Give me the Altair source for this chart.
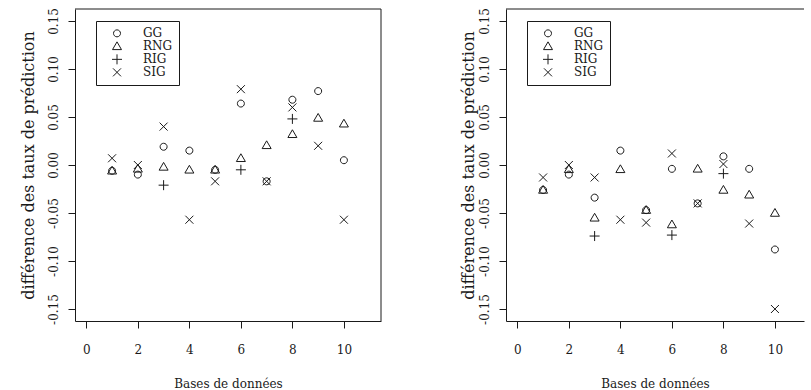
import altair as alt
import pandas as pd

# ---- data ----
bases = [1, 2, 3, 4, 5, 6, 7, 8, 9, 10]
series_names = ["GG", "RNG", "RIG", "SIG"]

left_gg  = [-0.006, -0.010, 0.019, 0.015, -0.005, 0.064, -0.017, 0.068, 0.077, 0.005]
left_rng = [-0.006, -0.004, -0.002, -0.005, -0.005, 0.007, 0.0205, 0.032, 0.049, 0.043]
left_rig = [None, None, -0.021, None, None, -0.005, None, 0.048, None, None]
left_sig = [0.007, 0.000, 0.040, -0.057, -0.017, 0.079, -0.017, 0.060, 0.020, -0.057]

right_gg  = [-0.026, -0.010, -0.034, 0.015, -0.047, -0.004, -0.040, 0.009, -0.004, -0.088]
right_rng = [-0.026, -0.0045, -0.055, -0.0045, -0.047, -0.062, -0.004, -0.026, -0.031, -0.050]
right_rig = [None, None, -0.074, None, None, -0.073, None, -0.009, None, None]
right_sig = [-0.013, 0.000, -0.013, -0.057, -0.060, 0.012, -0.040, 0.001, -0.061, -0.150]

x_ticks = [0, 2, 4, 6, 8, 10]
y_ticks = [-0.15, -0.10, -0.05, 0.00, 0.05, 0.10, 0.15]

x_title = "Bases de données"
y_title = "différence des taux de prédiction"

# symbol paths (R pch 1, 2, 3, 4)
shape_paths = [
    "M0.7,0A0.7,0.7,0,1,1,-0.7,0A0.7,0.7,0,1,1,0.7,0Z",
    "M0,-0.9L0.9,0.65L-0.9,0.65Z",
    "M-1,0L1,0M0,-1L0,1",
    "M-0.8,-0.8L0.8,0.8M-0.8,0.8L0.8,-0.8",
]

FONT = "DejaVu Serif"
INK = "#1a1a1a"
PAD_LABEL = "\u00a0" * 9


def long_table(gg, rng, rig, sig):
    rows = []
    for name, vals in zip(series_names, [gg, rng, rig, sig]):
        for b, v in zip(bases, vals):
            if v is not None:
                rows.append({"base": b, "diff": v, "serie": name})
    return pd.DataFrame(rows)


def panel(df, x_max, width, right_border, title_x):
    x_scale = alt.Scale(domain=[-0.44, x_max], nice=False, zero=False)
    y_scale = alt.Scale(domain=[-0.1625, 0.1625], nice=False, zero=False)
    pts = alt.Chart(df).mark_point(filled=False, size=100, strokeWidth=1, color=INK, opacity=1).encode(
        x=alt.X("base:Q", scale=x_scale,
                axis=alt.Axis(values=x_ticks, format="d", title=x_title, grid=False,
                              domainColor=INK, tickColor=INK, tickSize=7,
                              labelFont=FONT, labelFontSize=12, labelColor=INK,
                              labelBaseline="middle", labelPadding=21,
                              titleFont=FONT, titleFontSize=12, titleFontWeight="normal",
                              titleColor=INK, titleBaseline="middle", titleY=62)),
        y=alt.Y("diff:Q", scale=y_scale,
                axis=alt.Axis(values=y_ticks, title=y_title, grid=False,
                              labelExpr="replace(format(datum.value, '.2f'), '\u2212', '-')",
                              domainColor=INK, tickColor=INK, tickSize=7,
                              labelFont=FONT, labelFontSize=12, labelColor=INK,
                              labelAngle=270, labelAlign="center", labelBaseline="middle",
                              labelPadding=15,
                              titleFont=FONT, titleFontSize=16, titleFontWeight="normal",
                              titleColor=INK, titleAngle=270, titleAlign="center",
                              titleBaseline="middle", titleX=title_x, titleY=156)),
        shape=alt.Shape("serie:N",
                        scale=alt.Scale(domain=series_names, range=shape_paths),
                        legend=alt.Legend(orient="none", legendX=21, legendY=12, title=None,
                                          strokeColor=INK, fillColor="white", padding=6,
                                          clipHeight=12.7, rowPadding=0,
                                          symbolSize=100, symbolStrokeColor=INK,
                                          symbolStrokeWidth=1, symbolFillColor="transparent",
                                          symbolOffset=9, labelOffset=20,
                                          labelFont=FONT, labelFontSize=12, labelColor=INK,
                                          labelExpr="datum.label + '" + PAD_LABEL + "'")),
    )
    frame = alt.Data(values=[{"k": 1}])
    top = alt.Chart(frame).mark_rule(color=INK, strokeWidth=1).encode(y=alt.value(0))
    layers = [top, pts]
    if right_border:
        rb = alt.Chart(frame).mark_rule(color=INK, strokeWidth=1).encode(x=alt.value(width))
        layers.insert(1, rb)
    return alt.layer(*layers).properties(width=width, height=312)


left = panel(long_table(left_gg, left_rng, left_rig, left_sig), 11.44, 306, True, -47)
right = panel(long_table(right_gg, right_rng, right_rig, right_sig), 11.128, 298, False, -38)

chart = alt.hconcat(left, right, spacing=77).resolve_scale(
    shape="independent", x="independent", y="independent"
).resolve_legend(shape="independent").configure_view(stroke=None).properties(
    padding={"left": 19, "top": 7, "right": 0, "bottom": 0},
    background="white",
)

chart.save("out.html", embed_options={"renderer": "svg", "actions": False})
